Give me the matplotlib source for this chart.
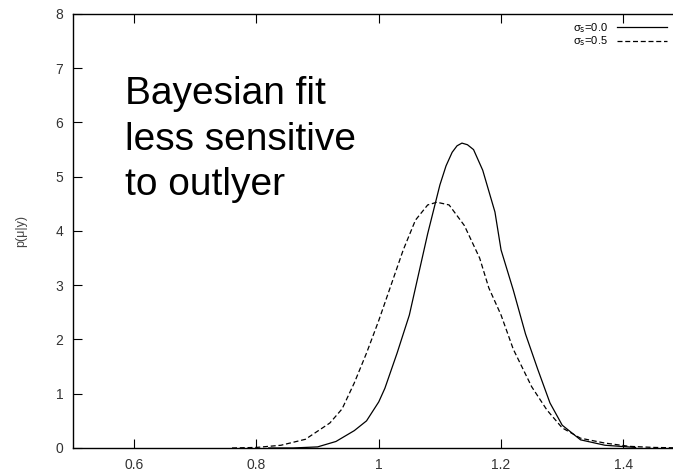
import matplotlib.pyplot as plt

plt.rcParams['font.family'] = ['Liberation Sans', 'DejaVu Sans']

# Posterior p(mu|y)
mu_s00 = [0.82, 0.86, 0.90, 0.93, 0.96, 0.98, 1.00, 1.01, 1.03, 1.05, 1.06, 1.08,
          1.10, 1.11, 1.12, 1.128, 1.136, 1.145, 1.155, 1.17, 1.19, 1.20, 1.22, 1.24,
          1.26, 1.28, 1.30, 1.33, 1.37, 1.42]
p_s00 = [0.0, 0.0, 0.02, 0.12, 0.32, 0.5, 0.85, 1.1, 1.75, 2.45, 2.95, 3.95,
         4.85, 5.2, 5.45, 5.57, 5.62, 5.59, 5.50, 5.12, 4.35, 3.65, 2.91, 2.1,
         1.45, 0.83, 0.42, 0.15, 0.05, 0.01]

mu_s05 = [0.76, 0.80, 0.84, 0.88, 0.92, 0.94, 0.96, 0.98, 1.00, 1.02, 1.04, 1.06,
          1.08, 1.095, 1.115, 1.14, 1.165, 1.18, 1.20, 1.22, 1.25, 1.275, 1.30,
          1.33, 1.37, 1.41, 1.45, 1.50]
p_s05 = [0.0, 0.01, 0.05, 0.16, 0.46, 0.72, 1.2, 1.75, 2.35, 3.0, 3.65, 4.2,
         4.48, 4.53, 4.48, 4.1, 3.5, 2.95, 2.45, 1.82, 1.13, 0.7, 0.37,
         0.18, 0.09, 0.03, 0.01, 0.0]

xticks = [0.6, 0.8, 1.0, 1.2, 1.4]
xlabels = ['0.6', '0.8', '1', '1.2', '1.4']
yticks = [0, 1, 2, 3, 4, 5, 6, 7, 8]

fig = plt.figure(figsize=(6.73, 4.74), dpi=100)
# right edge of the axes is cut off in the original picture
ax = fig.add_axes([0.1085, 0.0549, 0.9086, 0.9156])

ax.plot(mu_s00, p_s00, color='black', lw=0.9, label='σ$_\\mathrm{s}$=0.0')
ax.plot(mu_s05, p_s05, color='black', lw=0.9, dashes=(4, 2.2), label='σ$_\\mathrm{s}$=0.5')

ax.set_xlim(0.5, 1.5)
ax.set_ylim(0, 8)
ax.set_xticks(xticks)
ax.set_xticklabels(xlabels)
ax.set_yticks(yticks)
ax.tick_params(direction='in', length=6.5, width=0.8, top=True, right=True,
               labelsize=10, labelcolor='#333333', pad=7)
for s in ax.spines.values():
    s.set_linewidth(1.0)

ax.set_ylabel('p(μ|y)', fontsize=9, color='#444444', labelpad=20)

ax.text(0.5845, 5.68, 'Bayesian fit\nless sensitive\nto outlyer', fontsize=28,
        va='center', ha='left', linespacing=1.34)

ax.legend(loc='upper right', bbox_to_anchor=(1.0, 0.968),
          bbox_transform=fig.transFigure, frameon=False, markerfirst=False,
          handlelength=4.5, fontsize=8, labelspacing=0.0, borderpad=0,
          handletextpad=0.9)

plt.savefig('out.png', dpi=100)
